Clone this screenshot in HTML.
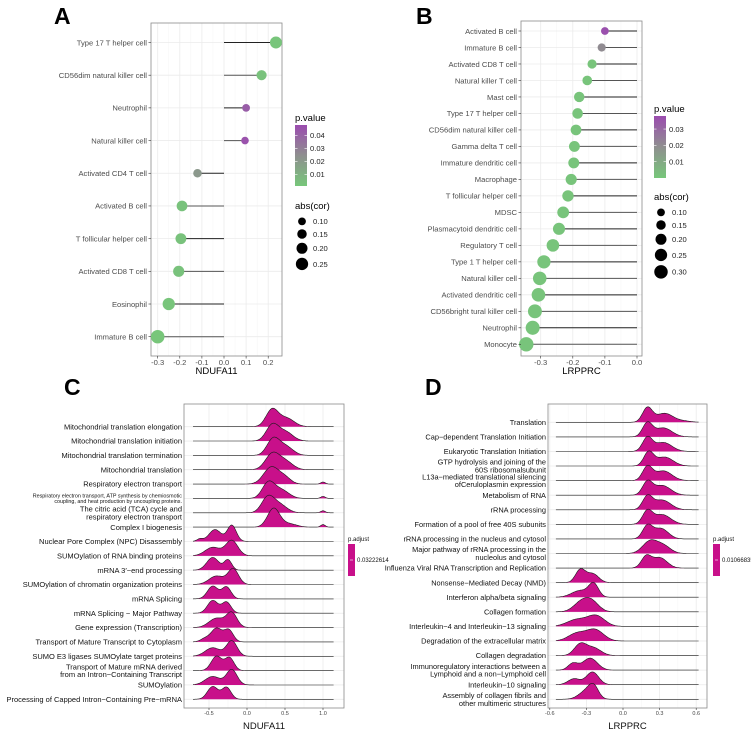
<!DOCTYPE html>
<html><head><meta charset="utf-8"><style>
body{margin:0;background:#fff;}
svg{display:block;font-family:"Liberation Sans",sans-serif;}
</style></head><body>
<svg id="s" width="751" height="731" viewBox="0 0 751 731" xmlns="http://www.w3.org/2000/svg">
<defs>
<linearGradient id="pgA" x1="0" y1="1" x2="0" y2="0"><stop offset="0" stop-color="#77c77a"/><stop offset="0.5" stop-color="#8f8f8f"/><stop offset="1" stop-color="#9b4caf"/></linearGradient>
</defs>
<text x="54" y="24" font-size="23" font-weight="bold">A</text>
<text x="416" y="24" font-size="23" font-weight="bold">B</text>
<text x="64" y="395" font-size="23" font-weight="bold">C</text>
<text x="425" y="395" font-size="23" font-weight="bold">D</text>
</svg>
<script>
// ---- Panel A data ----
const aCats=["Type 17 T helper cell","CD56dim natural killer cell","Neutrophil","Natural killer cell","Activated CD4 T cell","Activated B cell","T follicular helper cell","Activated CD8 T cell","Eosinophil","Immature  B cell"];
const aCor=[0.235,0.17,0.10,0.095,-0.12,-0.19,-0.195,-0.205,-0.25,-0.30];
const aP=[0.001,0.002,0.042,0.046,0.02,0.002,0.002,0.002,0.001,0.0005];
const aTicks=[-0.3,-0.2,-0.1,0.0,0.1,0.2];
const aPTicks=[0.01,0.02,0.03,0.04];
const aSizeTicks=[0.10,0.15,0.20,0.25];
// ---- Panel B data ----
const bCats=["Activated B cell","Immature  B cell","Activated CD8 T cell","Natural killer T cell","Mast cell","Type 17 T helper cell","CD56dim natural killer cell","Gamma delta T cell","Immature dendritic cell","Macrophage","T follicular helper cell","MDSC","Plasmacytoid dendritic cell","Regulatory T cell","Type 1 T helper cell","Natural killer cell","Activated dendritic cell","CD56bright tural killer cell","Neutrophil","Monocyte"];
const bCor=[-0.10,-0.11,-0.14,-0.155,-0.18,-0.185,-0.19,-0.195,-0.197,-0.205,-0.215,-0.23,-0.243,-0.262,-0.29,-0.303,-0.307,-0.318,-0.325,-0.345];
const bP=[0.037,0.02,0.001,0.001,0.001,0.001,0.001,0.001,0.001,0.001,0.001,0.001,0.001,0.001,0.001,0.001,0.001,0.001,0.001,0.001];
const bTicks=[-0.3,-0.2,-0.1,0.0];
const bPTicks=[0.01,0.02,0.03];
const bSizeTicks=[0.10,0.15,0.20,0.25,0.30];
// ---- Panel C data (ridge mixtures: [center, sd, weight]) ----
const cCats=["Mitochondrial translation elongation","Mitochondrial translation initiation","Mitochondrial translation termination","Mitochondrial translation","Respiratory electron transport","Respiratory electron transport, ATP synthesis by chemiosmotic|coupling, and heat production by uncoupling proteins.","The citric acid (TCA) cycle and|respiratory electron transport","Complex I biogenesis","Nuclear Pore Complex (NPC) Disassembly","SUMOylation of RNA binding proteins","mRNA 3′−end processing","SUMOylation of chromatin organization proteins","mRNA Splicing","mRNA Splicing − Major Pathway","Gene expression (Transcription)","Transport of Mature Transcript to Cytoplasm","SUMO E3 ligases SUMOylate target proteins","Transport of Mature mRNA derived|from an Intron−Containing Transcript","SUMOylation","Processing of Capped Intron−Containing Pre−mRNA"];
const cRidges=[
[[0.33,0.08,1.0],[0.52,0.1,0.5]],[[0.33,0.08,0.9],[0.5,0.1,0.55]],[[0.34,0.08,0.9],[0.5,0.1,0.55]],[[0.33,0.09,0.9],[0.5,0.1,0.5]],
[[0.32,0.1,1.0],[0.5,0.08,0.35],[1.0,0.03,0.12]],[[0.28,0.08,0.9],[0.45,0.1,0.5],[1.0,0.03,0.12]],[[0.27,0.08,0.85],[0.42,0.1,0.5],[1.0,0.03,0.12]],[[0.35,0.08,1.1],[0.55,0.1,0.2],[1.0,0.03,0.15]],
[[-0.42,0.08,0.7],[-0.2,0.06,0.95],[-0.62,0.04,0.15]],[[-0.45,0.1,0.5],[-0.2,0.08,0.9]],[[-0.45,0.08,0.75],[-0.25,0.05,0.6]],[[-0.4,0.1,0.5],[-0.18,0.07,0.9]],
[[-0.45,0.07,0.75],[-0.27,0.06,0.7]],[[-0.45,0.07,0.75],[-0.27,0.06,0.65]],[[-0.4,0.1,0.55],[-0.2,0.07,0.85]],[[-0.4,0.07,0.8],[-0.24,0.06,0.7],[-0.55,0.06,0.2]],
[[-0.45,0.1,0.5],[-0.2,0.07,0.9]],[[-0.4,0.07,0.85],[-0.23,0.06,0.75]],[[-0.45,0.1,0.5],[-0.2,0.07,0.9]],[[-0.45,0.07,0.75],[-0.27,0.06,0.7]]];
const cTicks=[-0.5,0.0,0.5,1.0];
const cTickLabels=["-0.5","0.0","0.5","1.0"];
const cPadj="0.03222614";
// ---- Panel D data ----
const dCats=["Translation","Cap−dependent Translation Initiation","Eukaryotic Translation Initiation","GTP hydrolysis and joining of the|60S ribosomalsubunit","L13a−mediated translational silencing|ofCeruloplasmin expression","Metabolism of RNA","rRNA processing","Formation of a pool of free 40S subunits","rRNA processing in the nucleus and cytosol","Major pathway of rRNA processing in the|nucleolus and cytosol","Influenza Viral RNA Transcription and Replication","Nonsense−Mediated Decay (NMD)","Interferon alpha/beta signaling","Collagen formation","Interleukin−4 and Interleukin−13 signaling","Degradation of the extracellular matrix","Collagen degradation","Immunoregulatory interactions between a|Lymphoid and a non−Lymphoid cell","Interleukin−10 signaling","Assembly of collagen fibrils and|other multimeric structures"];
const dRidges=[
[[0.2,0.04,0.95],[0.34,0.07,0.6],[0.5,0.06,0.08]],[[0.2,0.04,0.9],[0.33,0.07,0.6]],[[0.2,0.04,0.9],[0.33,0.07,0.6]],[[0.21,0.04,0.9],[0.34,0.07,0.6]],
[[0.2,0.04,0.9],[0.33,0.07,0.65]],[[0.2,0.04,0.85],[0.32,0.07,0.65]],[[0.2,0.04,0.85],[0.32,0.07,0.65]],[[0.2,0.04,0.85],[0.32,0.07,0.65]],
[[0.2,0.04,0.85],[0.31,0.06,0.7]],[[0.22,0.06,0.8],[0.33,0.06,0.5]],[[0.19,0.04,0.75],[0.3,0.06,0.7]],
[[-0.35,0.04,0.85],[-0.25,0.05,0.6]],[[-0.35,0.07,0.45],[-0.24,0.04,0.85]],[[-0.35,0.06,0.55],[-0.26,0.06,0.7]],[[-0.38,0.08,0.45],[-0.22,0.07,0.7]],
[[-0.38,0.07,0.5],[-0.23,0.07,0.75]],[[-0.35,0.05,0.75],[-0.24,0.06,0.5]],[[-0.41,0.04,0.45],[-0.27,0.06,0.8]],[[-0.4,0.05,0.4],[-0.25,0.05,0.85]],[[-0.3,0.06,0.55],[-0.24,0.04,0.7]]];
const dTicks=[-0.6,-0.3,0.0,0.3,0.6];
const dTickLabels=["-0.6","-0.3","0.0","0.3","0.6"];
const dPadj="0.01066835";

const svg=document.getElementById('s');
const NS="http://www.w3.org/2000/svg";
function mk(tag,attrs,parent){const e=document.createElementNS(NS,tag);for(const k in attrs)e.setAttribute(k,attrs[k]);(parent||svg).appendChild(e);return e;}
function txt(x,y,s,size,anchor,fill,parent){const t=mk('text',{x:x,y:y,'font-size':size,'text-anchor':anchor||'start',fill:fill||'#000'},parent);t.textContent=s;return t;}
function lerp(a,b,t){return a+(b-a)*t;}
function pcol(p,maxp){let t=Math.min(1,Math.max(0,p/maxp));const g=[119,199,122],m=[143,143,143],pu=[155,76,175];let c;if(t<0.5){const u=t/0.5;c=g.map((v,i)=>lerp(v,m[i],u));}else{const u=(t-0.5)/0.5;c=m.map((v,i)=>lerp(v,pu[i],u));}return `rgb(${c.map(Math.round).join(',')})`;}

function lollipop(cfg){
  const g=mk('g',{});
  
  
  const {x0,x1,y0,y1,dmin,dmax}=cfg;
  const xs=v=>x0+(v-dmin)/(dmax-dmin)*(x1-x0);
  const n=cfg.cats.length;
  const ys=i=>cfg.yFirst+i*(cfg.yLast-cfg.yFirst)/(n-1);
  cfg.ticks.forEach((t,i)=>{
    mk('line',{x1:xs(t),x2:xs(t),y1:y0,y2:y1,stroke:'#ebebeb','stroke-width':0.8},g);
    if(i<cfg.ticks.length-1){const m=(t+cfg.ticks[i+1])/2;mk('line',{x1:xs(m),x2:xs(m),y1:y0,y2:y1,stroke:'#f4f4f4','stroke-width':0.5},g);}
  });
  for(let i=0;i<n;i++) mk('line',{x1:x0,x2:x1,y1:ys(i),y2:ys(i),stroke:'#ebebeb','stroke-width':0.8},g);
  mk('rect',{x:x0,y:y0,width:x1-x0,height:y1-y0,fill:'none',stroke:'#8a8a8a','stroke-width':0.8},g);
  const sr=v=>Math.sqrt(v)*cfg.rk;
  for(let i=0;i<n;i++){
    const y=ys(i);
    const st=mk('line',{x1:xs(0),x2:xs(cfg.cor[i]),y1:y,y2:y,stroke:i%2?'#555':'#222','stroke-width':1},g);
    
    
    const c=mk('circle',{cx:xs(cfg.cor[i]),cy:y,r:sr(Math.abs(cfg.cor[i])),fill:pcol(cfg.p[i],cfg.pmax)},g);
    
    
    const l=txt(x0-4,y+2.8,cfg.cats[i],7.6,'end','#4d4d4d',g);
    
    
    mk('line',{x1:x0-2.5,x2:x0,y1:y,y2:y,stroke:'#333','stroke-width':0.6},g);
  }
  cfg.ticks.forEach(t=>{
    mk('line',{x1:xs(t),x2:xs(t),y1:y1,y2:y1+2.5,stroke:'#333','stroke-width':0.6},g);
    const l=txt(xs(t),y1+9,(t<0?'-':'')+Math.abs(t).toFixed(1),7.6,'middle','#4d4d4d',g);
    
    
  });
  const xt=txt((x0+x1)/2,y1+18,cfg.xtitle,9.5,'middle','#000',g);
  
  
  const L=cfg.leg;
  const lt=txt(L.x,L.pTitleY,'p.value',9.5,'start','#000',g);
  
  
  const bar=mk('rect',{x:L.x,y:L.barY0,width:12,height:L.barY1-L.barY0,fill:'url(#pgA)'},g);
  
  
  const pys=p=>L.barY1-(p-L.pLo)/(cfg.pmax-L.pLo)*(L.barY1-L.barY0);
  cfg.pTicks.forEach(p=>{
    mk('line',{x1:L.x,x2:L.x+2.5,y1:pys(p),y2:pys(p),stroke:'#fff','stroke-width':0.6},g);
    mk('line',{x1:L.x+9.5,x2:L.x+12,y1:pys(p),y2:pys(p),stroke:'#fff','stroke-width':0.6},g);
    txt(L.x+15,pys(p)+2.8,p.toFixed(2),7.6,'start','#222',g);
  });
  const st=txt(L.x,L.sTitleY,'abs(cor)',9.5,'start','#000',g);
  
  
  let y=L.sTitleY+6;
  cfg.sizeTicks.forEach(s=>{
    const r=sr(s);y+=r+2.5;
    mk('circle',{cx:L.x+7,cy:y,r:r,fill:'#000'},g);
    txt(L.x+18,y+2.8,s.toFixed(2),7.6,'start','#222',g);
    y+=r+1.5;
  });
}

lollipop({name:'panel-a-lollipop',cats:aCats,cor:aCor,p:aP,ticks:aTicks,pTicks:aPTicks,sizeTicks:aSizeTicks,pmax:0.048,
  x0:151,x1:282,y0:23,y1:356,dmin:-0.3-(157.7-151)/221,dmax:-0.3-(157.7-151)/221+(282-151)/221,yFirst:42.5,yLast:336.7,rk:12.3,xtitle:'NDUFA11',
  leg:{x:295,pTitleY:121,barY0:125,barY1:186,pLo:0.001,sTitleY:209}});
lollipop({name:'panel-b-lollipop',cats:bCats,cor:bCor,p:bP,ticks:bTicks,pTicks:bPTicks,sizeTicks:bSizeTicks,pmax:0.038,
  x0:521,x1:642,y0:21,y1:356,dmin:-0.3-(540.7-521)/321,dmax:-0.3-(540.7-521)/321+(642-521)/321,yFirst:31,yLast:344.3,rk:12.3,xtitle:'LRPPRC',
  leg:{x:654,pTitleY:112,barY0:116,barY1:178,pLo:0.0,sTitleY:200}});

function ridges(cfg){
  const g=mk('g',{});
  
  
  const {x0,x1,y0,y1}=cfg;
  const xs=v=>cfg.zeroX+v*cfg.pxPerUnit;
  const n=cfg.cats.length;
  const ys=i=>cfg.yFirst+i*(cfg.yLast-cfg.yFirst)/(n-1);
  cfg.ticks.forEach((t,i)=>{
    mk('line',{x1:xs(t),x2:xs(t),y1:y0,y2:y1,stroke:'#ebebeb','stroke-width':0.8},g);
    if(i<cfg.ticks.length-1){const m=(t+cfg.ticks[i+1])/2;mk('line',{x1:xs(m),x2:xs(m),y1:y0,y2:y1,stroke:'#f4f4f4','stroke-width':0.5},g);}
  });
  for(let i=0;i<n;i++) mk('line',{x1:x0,x2:x1,y1:ys(i),y2:ys(i),stroke:'#ebebeb','stroke-width':0.8},g);
  for(let i=0;i<n;i++){
    const y=ys(i);const comps=cfg.data[i];
    let pts=[];
    for(let k=0;k<=200;k++){
      const v=cfg.lo+(cfg.hi-cfg.lo)*k/200;
      let d=0;comps.forEach(c=>{d+=c[2]*Math.exp(-((v-c[0])**2)/(2*c[1]*c[1]));});
      pts.push([xs(v),y-d*cfg.hk]);
    }
    const line=pts.map((p,j)=>(j?'L':'M')+p[0].toFixed(1)+','+p[1].toFixed(1)).join('');
    const area=mk('path',{d:line+`L${xs(cfg.hi)},${y}L${xs(cfg.lo)},${y}Z`,fill:'#c8108a'},g);
    
    
    mk('path',{d:line,fill:'none',stroke:'#1a1a1a','stroke-width':0.6},g);
  }
  mk('rect',{x:x0,y:y0,width:x1-x0,height:y1-y0,fill:'none',stroke:'#8a8a8a','stroke-width':0.8},g);
  for(let i=0;i<n;i++){
    const lines=cfg.cats[i].split('|');const y=ys(i);
    const fs=lines[0].length>55?5.4:cfg.fs;
    const lh=fs*1.05;
    lines.forEach((s,j)=>{
      const l=txt(x0-2,y+fs*0.35+(j-(lines.length-1)/2)*lh,s,fs,'end','#111',g);
      
      
    });
  }
  cfg.ticks.forEach((t,i)=>{
    mk('line',{x1:xs(t),x2:xs(t),y1:y1,y2:y1+2,stroke:'#333','stroke-width':0.6},g);
    const l=txt(xs(t),y1+7,cfg.tickLabels[i],5.5,'middle','#444',g);
    
    
  });
  const xt=txt((x0+x1)/2,y1+21,cfg.xtitle,9.5,'middle','#111',g);
  
  
  const lt=txt(cfg.legX,541,'p.adjust',6,'start','#111',g);
  
  
  const b=mk('rect',{x:cfg.legX,y:544,width:7,height:32,fill:'#c8108a'},g);
  
  
  mk('line',{x1:cfg.legX+2,x2:cfg.legX+5,y1:560,y2:560,stroke:'#fff','stroke-width':0.6},g);
  txt(cfg.legX+9,562,cfg.padj,6,'start','#111',g);
}
ridges({name:'panel-c-ridges',cats:cCats,data:cRidges,ticks:cTicks,tickLabels:cTickLabels,padj:cPadj,fs:7.5,
  x0:184,x1:344,y0:404,y1:708,zeroX:247,pxPerUnit:76,yFirst:426.7,yLast:699.3,lo:-0.71,hi:1.14,hk:17,xtitle:'NDUFA11',legX:348});
ridges({name:'panel-d-ridges',cats:dCats,data:dRidges,ticks:dTicks,tickLabels:dTickLabels,padj:dPadj,fs:7.4,
  x0:548,x1:707,y0:404,y1:708,zeroX:623,pxPerUnit:122,yFirst:422.3,yLast:699.3,lo:-0.55,hi:0.62,hk:15,xtitle:'LRPPRC',legX:713});
</script>
</body></html>
